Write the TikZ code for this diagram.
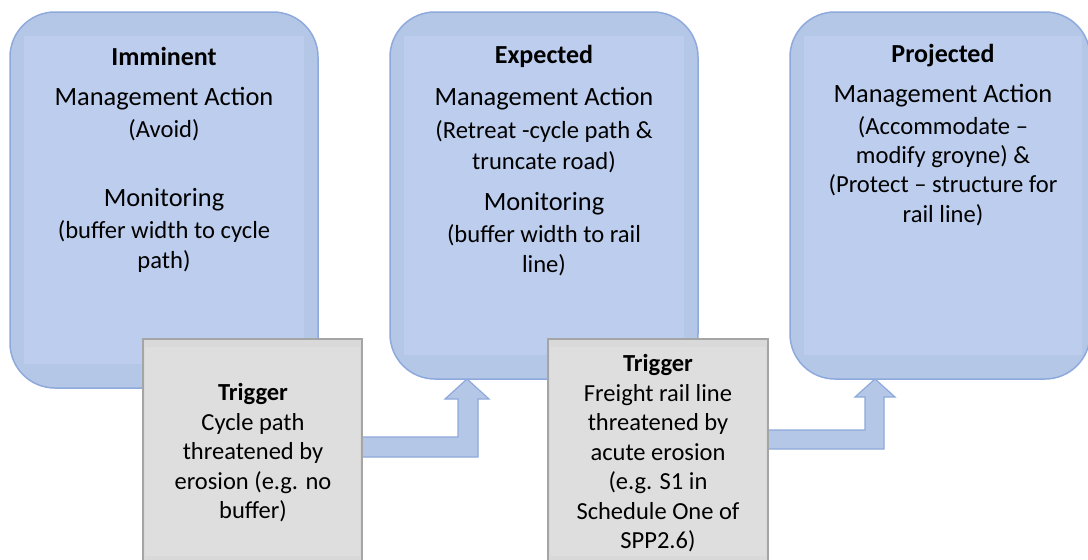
\documentclass[tikz,border=0pt]{standalone}
\usepackage{fontspec}
\setmainfont{Carlito}
\usetikzlibrary{calc}
\definecolor{bouter}{HTML}{B4C7E7}
\definecolor{binner}{HTML}{BCCDEE}
\definecolor{bborder}{HTML}{8EA9DB}
\definecolor{gouter}{HTML}{D9D9D9}
\definecolor{ginner}{HTML}{DEDEDE}
\definecolor{gborder}{HTML}{A5A5A5}
\tikzset{
  bluebox/.style={draw=bborder, fill=bouter, line width=1.5pt, rounded corners=45pt, inner sep=0pt},
  graybox/.style={draw=gborder, fill=gouter, line width=1.5pt, inner sep=0pt},
  titletxt/.style={font=\bfseries\fontsize{26}{31}\selectfont, inner sep=0pt},
  headtxt/.style={font=\fontsize{26.4}{31}\selectfont, inner sep=0pt},
  detailtxt/.style={font=\fontsize{24.6}{30.5}\selectfont, align=center, inner sep=0pt},
  trigtxt/.style={font=\fontsize{24.5}{29.5}\selectfont, align=center, inner sep=0pt},
  flow/.style={draw=bborder, fill=bouter, line width=1.2pt, line join=miter},
}
\begin{document}
\begin{tikzpicture}[x=1pt,y=-1pt]
\useasboundingbox (0,0) rectangle (1088,560);
\fill[white] (0,0) rectangle (1088,560);
% stage boxes
\node[bluebox, minimum width=308pt, minimum height=376pt] (b1) at (164,200) {};
\node[bluebox, minimum width=308pt, minimum height=367pt] (b2) at (544,195.5) {};
\node[bluebox, minimum width=300pt, minimum height=367pt] (b3) at (940,195.5) {};
\fill[binner] ($(b1.north west)+(15,25)$) rectangle ($(b1.south east)+(-15,-25)$);
\fill[binner] ($(b2.north west)+(15,25)$) rectangle ($(b2.south east)+(-15,-25)$);
\fill[binner] ($(b3.north west)+(15,25)$) rectangle ($(b3.south east)+(-9,-25)$);
% texts box 1
\node[titletxt] (t1a) at (164,56) {Imminent};
\node[headtxt] (t1b) at (164,99) {Management Action};
\node[detailtxt] (t1c) at (164,130) {(Avoid)};
\node[headtxt] (t1d) at (164,200) {Monitoring};
\node[detailtxt] (t1e) at (164,246.5) {(buffer width to cycle\\path)};
% texts box 2
\node[titletxt] (t2a) at (544,56) {Expected};
\node[headtxt] (t2b) at (544,99) {Management Action};
\node[detailtxt] (t2c) at (544,146.5) {(Retreat -cycle path \&\\truncate road)};
\node[headtxt] (t2d) at (544,204) {Monitoring};
\node[detailtxt] (t2e) at (544,250) {(buffer width to rail\\line)};
% texts box 3
\node[titletxt] (t3a) at (943,56) {Projected};
\node[headtxt] (t3b) at (943,96) {Management Action};
\node[font=\fontsize{24.6}{29.3}\selectfont, align=center, inner sep=0pt] (t3c) at (943,171) {(Accommodate --\\modify groyne) \&\\(Protect -- structure for\\rail line)};
% flow arrows
\coordinate (a1s) at (357,437);
\coordinate (a2s) at (761,430);
\draw[flow] (a1s) -- ++(101,0) -- ++(0,-38) -- ++(-13,0) -- ++(22,-20) -- ++(22,20) -- ++(-11,0) -- ++(0,58) -- ++(-121,0) -- cycle;
\draw[flow] (a2s) -- ++(104,0) -- ++(0,-33) -- ++(-10,0) -- ++(20,-18) -- ++(20,18) -- ++(-11,0) -- ++(0,52) -- ++(-123,0) -- cycle;
% trigger boxes
\node[graybox, minimum width=219pt, minimum height=236pt] (g1) at (252.5,457) {};
\node[graybox, minimum width=220pt, minimum height=236pt] (g2) at (658,457) {};
\fill[ginner] ($(g1.north west)+(3,9)$) rectangle ($(g1.south east)+(-3,-20)$);
\fill[ginner] ($(g2.north west)+(3,9)$) rectangle ($(g2.south east)+(-3,-20)$);
\node[trigtxt] (g1t) at (253,453) {\textbf{Trigger}\\Cycle path\\threatened by\\erosion (e.g. no\\buffer)};
\node[trigtxt] (g2t) at (658,453.5) {\textbf{Trigger}\\Freight rail line\\threatened by\\acute erosion\\(e.g. S1 in\\Schedule One of\\SPP2.6)};
\end{tikzpicture}
\end{document}
